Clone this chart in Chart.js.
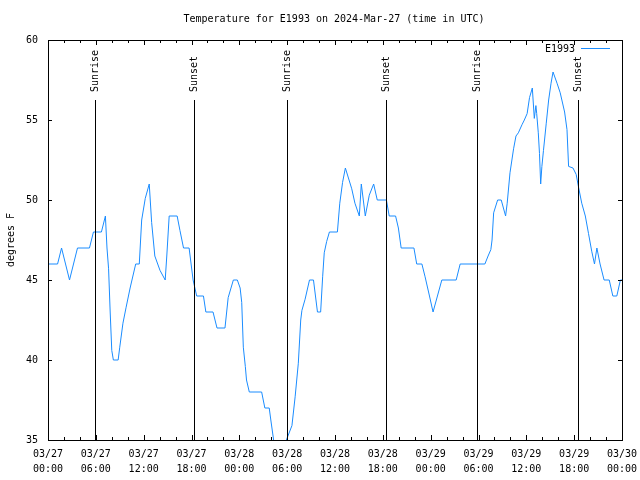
<!DOCTYPE html>
<html>
<head>
<meta charset="utf-8">
<script src="https://cdn.jsdelivr.net/npm/chart.js@4.4.1/dist/chart.umd.min.js"></script>
<style>
  html, body { margin: 0; padding: 0; background: #fff; }
  #wrap { width: 640px; height: 480px; }
</style>
</head>
<body>
<div id="wrap"><canvas id="tempChart" width="640" height="480"></canvas></div>
<script>
// hours since 2024-03-27 00:00 UTC, temperature in degrees F
const hours = [0, 1.2, 1.7, 2.7, 3.7, 5.2, 5.7, 6.7, 7.2, 7.4, 7.6, 7.8, 8.0, 8.2, 8.8, 9.0, 9.4, 9.8, 10.3, 11.0,
    11.45, 11.75, 12.2, 12.7, 13.0, 13.4, 14.05, 14.7, 14.9, 15.2, 16.2, 16.55, 17.0, 17.7, 18.2, 18.65, 19.5, 19.8,
    20.7, 21.2, 22.2, 22.6, 23.25, 23.75, 24.1, 24.3, 24.5, 24.75, 24.9, 25.25, 26.8, 27.2, 27.75, 27.95, 28.3, 29.0,
    29.9, 30.6, 31.0, 31.4, 31.7, 31.85, 32.25, 32.8, 33.3, 33.8, 34.2, 34.45, 34.65, 34.95, 35.3, 36.3, 36.6, 36.95,
    37.3, 38.1, 38.5, 39.05, 39.3, 39.8, 40.3, 40.85, 41.3, 42.45, 42.8, 43.6, 43.95, 44.3, 45.9, 46.25, 46.9, 47.3,
    47.85, 48.3, 49.4, 51.2, 51.7, 54.8, 55.2, 55.55, 55.7, 55.9, 56.4, 56.85, 57.4, 57.6, 57.95, 58.4, 58.7, 59.0,
    59.45, 59.75, 60.1, 60.4, 60.75, 61.0, 61.2, 61.3, 61.5, 61.65, 61.8, 61.95, 62.15, 62.5, 62.8, 63.1, 63.35, 63.85,
    64.25, 64.8, 65.1, 65.3, 65.85, 66.25, 66.55, 66.95, 67.4, 67.8, 68.2, 68.55, 68.85, 69.25, 69.75, 70.4, 70.85,
    71.35, 71.8, 72];
const temps = [46, 46, 47, 45, 47, 47, 48, 48, 49, 47, 45.7, 43, 40.6, 40, 40, 40.8, 42.3, 43.3, 44.5, 46,
    46, 48.75, 50.1, 51, 48.6, 46.5, 45.6, 45, 46.5, 49, 49, 48.1, 47, 47, 45, 44, 44, 43,
    43, 42, 42, 43.9, 45, 45, 44.5, 43.6, 40.8, 39.6, 38.75, 38, 38, 37, 37, 36.25, 35, 34,
    35, 35.9, 37.7, 39.8, 42.5, 43.1, 43.8, 45, 45, 43, 43, 45.2, 46.7, 47.4, 48, 48, 49.8, 51.1,
    52, 50.7, 49.8, 49, 51, 49, 50.3, 51, 50, 50, 49, 49, 48.25, 47, 47, 46, 46, 45.2,
    44, 43, 45, 45, 46, 46, 46.5, 46.9, 47.5, 49.2, 50, 50, 49, 49.8, 51.7, 53.2, 54, 54.2,
    54.7, 55, 55.4, 56.4, 57, 55.1, 55.9, 55.4, 54.2, 52.9, 51, 52.1, 53.1, 54.8, 56.25, 57.3, 58, 57.3,
    56.7, 55.5, 54.4, 52.1, 52, 51.6, 50.8, 49.8, 49, 47.9, 46.8, 46, 47, 46, 45, 45, 44,
    44, 45, 45];

const xDayLabels = ['03/27', '03/27', '03/27', '03/27', '03/28', '03/28', '03/28', '03/28',
    '03/29', '03/29', '03/29', '03/29', '03/30'];
const xTimeLabels = ['00:00', '06:00', '12:00', '18:00', '00:00', '06:00', '12:00', '18:00',
    '00:00', '06:00', '12:00', '18:00', '00:00'];

const eventHours = [5.9, 18.3, 30.0, 42.4, 53.8, 66.5];
const eventNames = ['Sunrise', 'Sunset', 'Sunrise', 'Sunset', 'Sunrise', 'Sunset'];

const chartTitle = 'Temperature for E1993 on 2024-Mar-27 (time in UTC)';
const lineColor = '#1a8cff';
const monoFont = "'DejaVu Sans Mono', 'Liberation Mono', monospace";

// gnuplot style frame, inward ticks, sun lines, legend, titles
const gnuplotFrame = {
    id: 'gnuplotFrame',
    afterDraw(chart) {
        const ctx = chart.ctx;
        const area = chart.chartArea;
        const xs = chart.scales.x;
        const ys = chart.scales.y;
        ctx.save();
        ctx.strokeStyle = '#000';
        ctx.lineWidth = 1;
        ctx.font = '10px ' + monoFont;
        ctx.fillStyle = '#000';

        // title, centred over the plot box
        ctx.textAlign = 'center';
        ctx.textBaseline = 'middle';
        ctx.fillText(chartTitle, (area.left + area.right) / 2 - 1, 19);

        // sunrise / sunset markers
        eventHours.forEach((h, i) => {
            const px = Math.round(xs.getPixelForValue(h)) + 0.5;
            ctx.beginPath();
            ctx.moveTo(px, area.top + 60);
            ctx.lineTo(px, area.bottom);
            ctx.stroke();
            ctx.save();
            ctx.translate(px, area.top + 52);
            ctx.rotate(-Math.PI / 2);
            ctx.textAlign = 'left';
            ctx.textBaseline = 'middle';
            ctx.fillText(eventNames[i], 0, 0);
            ctx.restore();
        });

        // border
        ctx.strokeRect(Math.round(area.left) + 0.5, Math.round(area.top) + 0.5,
            Math.round(area.right - area.left), Math.round(area.bottom - area.top));

        // x ticks: major every 6 h, minor every 2 h
        ctx.beginPath();
        for (let v = xs.min; v <= xs.max; v += 2) {
            const px = Math.round(xs.getPixelForValue(v)) + 0.5;
            const len = v % 6 === 0 ? 5 : 3;
            ctx.moveTo(px, area.bottom);
            ctx.lineTo(px, area.bottom - len);
            ctx.moveTo(px, area.top);
            ctx.lineTo(px, area.top + len);
        }
        // y ticks
        ys.ticks.forEach(t => {
            const py = Math.round(ys.getPixelForValue(t.value)) + 0.5;
            ctx.moveTo(area.left, py);
            ctx.lineTo(area.left + 4, py);
            ctx.moveTo(area.right, py);
            ctx.lineTo(area.right - 4, py);
        });
        ctx.stroke();

        // legend
        const ds = chart.data.datasets[0];
        ctx.textAlign = 'right';
        ctx.textBaseline = 'middle';
        ctx.fillText(ds.label, area.right - 47, area.top + 9);
        ctx.strokeStyle = ds.borderColor;
        ctx.beginPath();
        ctx.moveTo(area.right - 41, area.top + 8.5);
        ctx.lineTo(area.right - 12, area.top + 8.5);
        ctx.stroke();

        // y axis title
        ctx.save();
        ctx.translate(11, (area.top + area.bottom) / 2);
        ctx.rotate(-Math.PI / 2);
        ctx.textAlign = 'center';
        ctx.textBaseline = 'middle';
        ctx.fillText('degrees F', 0, 0);
        ctx.restore();

        ctx.restore();
    }
};

new Chart(document.getElementById('tempChart'), {
    type: 'line',
    data: {
        datasets: [{
            label: 'E1993',
            data: hours.map((h, i) => ({ x: h, y: temps[i] })),
            borderColor: lineColor,
            borderWidth: 1,
            pointRadius: 0,
            tension: 0,
            fill: false
        }]
    },
    options: {
        responsive: false,
        devicePixelRatio: 1,
        animation: false,
        layout: { padding: { left: 0, right: 18, top: 40, bottom: 0 } },
        plugins: {
            legend: { display: false },
            tooltip: { enabled: false },
            title: { display: false }
        },
        scales: {
            x: {
                type: 'linear',
                min: 0,
                max: 72,
                grid: { display: false, drawTicks: false },
                border: { display: false },
                ticks: {
                    stepSize: 6,
                    autoSkip: false,
                    maxRotation: 0,
                    padding: 7,
                    color: '#000',
                    font: { family: monoFont, size: 10, lineHeight: 1.5 },
                    callback: v => {
                        const i = Math.round(v / 6);
                        return [xDayLabels[i], xTimeLabels[i]];
                    }
                },
                afterFit: s => {
                    s.height = 40;
                    s.paddingLeft = 0;
                    s.paddingRight = 0;
                }
            },
            y: {
                min: 35,
                max: 60,
                grid: { display: false, drawTicks: false },
                border: { display: false },
                ticks: {
                    stepSize: 5,
                    padding: 10,
                    color: '#000',
                    font: { family: monoFont, size: 10 }
                },
                afterFit: s => {
                    s.width = 48;
                    s.paddingTop = 0;
                    s.paddingBottom = 0;
                }
            }
        }
    },
    plugins: [gnuplotFrame]
});
</script>
</body>
</html>
